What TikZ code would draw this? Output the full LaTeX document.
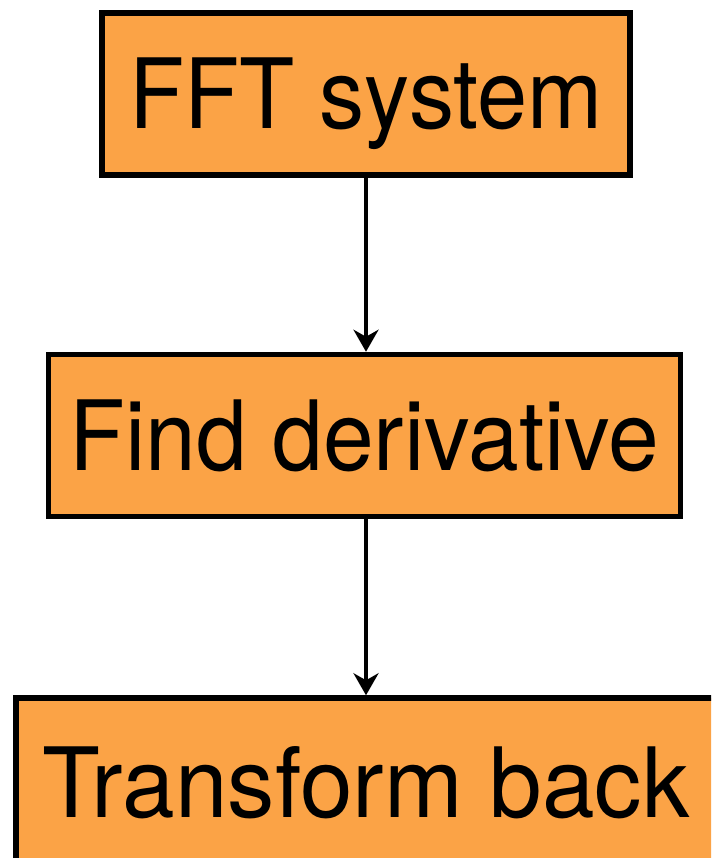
\documentclass[tikz,border=0pt]{standalone}
\usepackage{fontspec}
\setmainfont[FakeStretch=0.93]{TeX Gyre Heros}
\newfontfamily\midfont[FakeStretch=0.94]{TeX Gyre Heros}
\newfontfamily\widefont[FakeStretch=0.975]{TeX Gyre Heros}
\usetikzlibrary{arrows.meta}
\definecolor{boxorange}{RGB}{251,163,70}
\tikzset{
  stepbox/.style={draw=black, line width=5.5pt, fill=boxorange, inner sep=0pt,
    minimum height=162pt, text height=70pt, text depth=0pt,
    font=\fontsize{97}{110}\selectfont},
  flow/.style={draw=black, line width=4.5pt,
    -{Stealth[length=22pt, width=25pt, inset=7pt]}}
}
\begin{document}
\begin{tikzpicture}[x=1pt, y=-1pt]
  \useasboundingbox (0,0) rectangle (711,858);
  \clip (0,0) rectangle (711,858);
  \node[stepbox, minimum width=528pt] (fft) at (366,94) {FFT system};
  \node[stepbox, minimum width=632pt] (deriv) at (364.5,435.5) {\midfont Find derivative};
  \node[stepbox, minimum width=700pt, minimum height=168pt] (back) at (366,782) {\widefont Transform back};
  \draw[flow] (fft.south -| 366,0) -- (deriv.north -| 366,0);
  \draw[flow] (deriv.south -| 366,0) -- (back.north -| 366,0);
\end{tikzpicture}
\end{document}
